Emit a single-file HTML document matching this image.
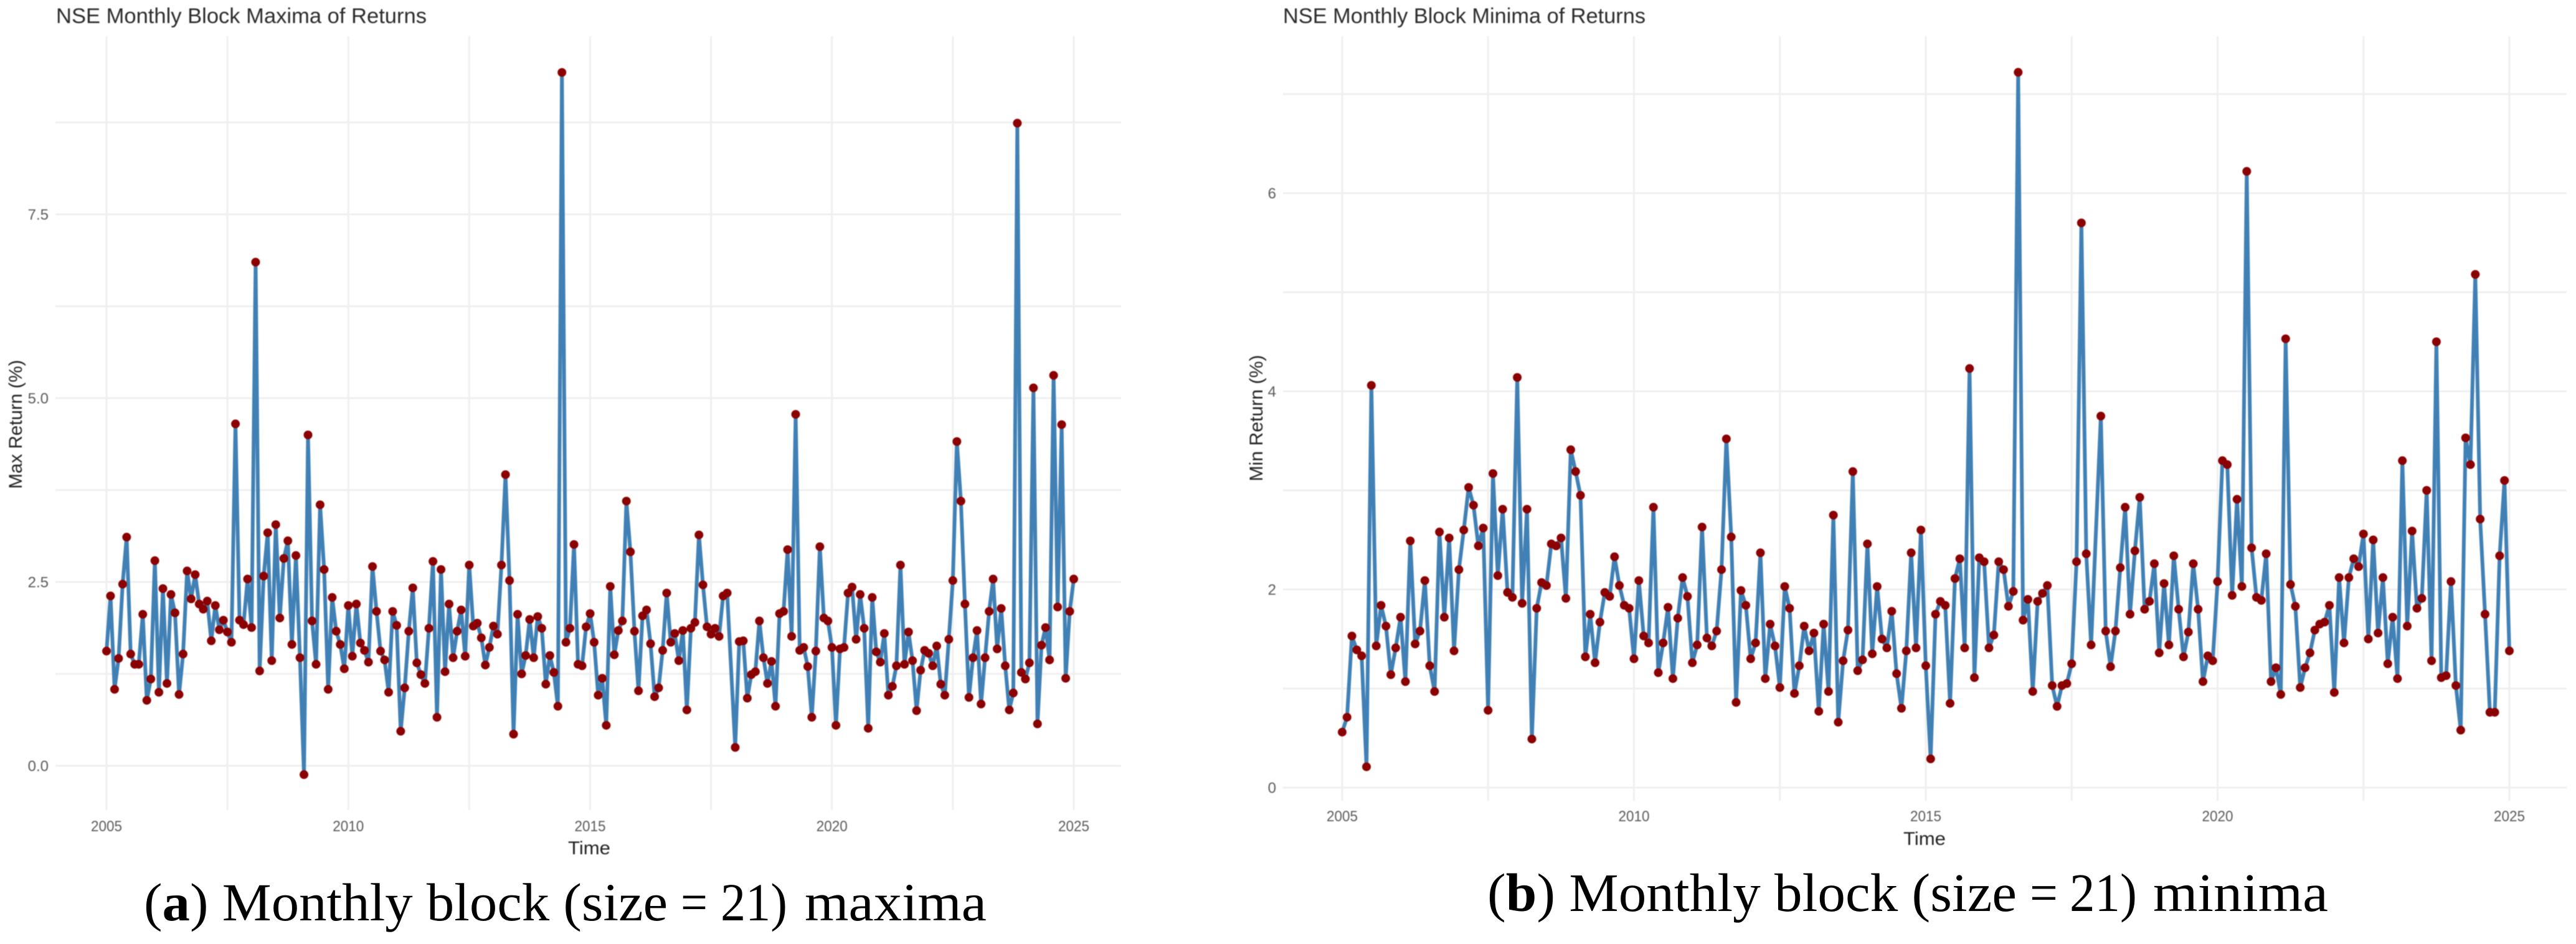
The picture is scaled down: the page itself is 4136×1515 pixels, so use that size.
<!DOCTYPE html>
<html lang="en">
<head>
<meta charset="utf-8">
<title>NSE Monthly Block Maxima and Minima of Returns</title>
<style>
html,body{margin:0;padding:0;background:#fff;width:4136px;height:1515px;overflow:hidden}
svg{display:block}
.plot{filter:blur(0.8px)}
.title{font:34px "Liberation Sans",sans-serif;fill:#2b2b2b}
.axt{font:30px "Liberation Sans",sans-serif;fill:#222}
.tick{font:24px "Liberation Sans",sans-serif;fill:#5a5a5a}
.cap{font:86px "Liberation Serif",serif;fill:#000}
.capb{font:87px "Liberation Serif",serif;fill:#000}
</style>
</head>
<body>
<svg id="fig" xmlns="http://www.w3.org/2000/svg" width="4136" height="1515" viewBox="0 0 4136 1515">
<rect width="4136" height="1515" fill="#fff"/>
<g id="plotA" class="plot">
<text class="title" x="90" y="37" textLength="595" lengthAdjust="spacingAndGlyphs">NSE Monthly Block Maxima of Returns</text>
<text class="axt" x="946" y="1371" text-anchor="middle" textLength="68" lengthAdjust="spacingAndGlyphs">Time</text>
<text class="axt" transform="translate(35 681) rotate(-90)" text-anchor="middle" textLength="207" lengthAdjust="spacingAndGlyphs">Max Return (%)</text>
</g>
<g id="plotB" class="plot">
<text class="title" x="2060" y="37" textLength="582" lengthAdjust="spacingAndGlyphs">NSE Monthly Block Minima of Returns</text>
<text class="axt" x="3090" y="1356" text-anchor="middle" textLength="68" lengthAdjust="spacingAndGlyphs">Time</text>
<text class="axt" transform="translate(2027 671) rotate(-90)" text-anchor="middle" textLength="203" lengthAdjust="spacingAndGlyphs">Min Return (%)</text>
</g>
<g>
<text class="cap" x="231" y="1477" textLength="841" lengthAdjust="spacingAndGlyphs">(<tspan font-weight="bold">a</tspan>) Monthly block (size</text>
<text class="cap" x="1093" y="1477" textLength="43" lengthAdjust="spacingAndGlyphs">=</text>
<text class="cap" x="1157" y="1477" textLength="107" lengthAdjust="spacingAndGlyphs">21)</text>
<text class="cap" x="1292" y="1477" textLength="292" lengthAdjust="spacingAndGlyphs">maxima</text>
</g>
<g>
<text class="capb" x="2388" y="1462" textLength="850" lengthAdjust="spacingAndGlyphs">(<tspan font-weight="bold">b</tspan>) Monthly block (size</text>
<text class="capb" x="3259" y="1462" textLength="45" lengthAdjust="spacingAndGlyphs">=</text>
<text class="capb" x="3323" y="1462" textLength="108" lengthAdjust="spacingAndGlyphs">21)</text>
<text class="capb" x="3457" y="1462" textLength="281" lengthAdjust="spacingAndGlyphs">minima</text>
</g>
</svg>
<script>
const startYear = 2005;
const xTickYears = [2005, 2010, 2015, 2020, 2025];
const xMinorYears = [2007.5, 2012.5, 2017.5, 2022.5];
const yTicksMax = [0, 2.5, 5, 7.5];
const yTickLabelsMax = ["0.0", "2.5", "5.0", "7.5"];
const yMinorMax = [1.25, 3.75, 6.25, 8.75];
const yTicksMin = [0, 2, 4, 6];
const yTickLabelsMin = ["0", "2", "4", "6"];
const yMinorMin = [1, 3, 5, 7];

const maxReturns = [
1.56,2.31,1.04,1.46,2.47,3.11,1.52,1.38,1.38,2.06,0.89,1.18,
2.79,1.00,2.41,1.12,2.33,2.08,0.97,1.52,2.65,2.27,2.60,2.20,
2.13,2.24,1.70,2.18,1.85,1.98,1.82,1.68,4.65,1.98,1.92,2.54,
1.88,6.85,1.29,2.58,3.17,1.43,3.28,2.01,2.82,3.06,1.65,2.86,
1.47,-0.12,4.50,1.97,1.38,3.55,2.67,1.04,2.29,1.83,1.65,1.32,
2.18,1.49,2.20,1.67,1.57,1.41,2.71,2.10,1.56,1.44,1.00,2.10,
1.91,0.47,1.06,1.83,2.42,1.40,1.24,1.12,1.87,2.78,0.66,2.67,
1.28,2.20,1.47,1.83,2.12,1.49,2.73,1.90,1.94,1.74,1.37,1.61,
1.90,1.79,2.73,3.96,2.52,0.43,2.06,1.25,1.50,1.99,1.47,2.03,
1.87,1.11,1.50,1.27,0.81,9.43,1.68,1.87,3.01,1.38,1.36,1.89,
2.07,1.68,0.96,1.19,0.55,2.44,1.51,1.84,1.97,3.60,2.91,1.83,
1.02,2.04,2.12,1.66,0.94,1.06,1.57,2.35,1.68,1.80,1.43,1.84,
0.76,1.87,1.95,3.14,2.46,1.89,1.79,1.87,1.76,2.31,2.35,null,
0.25,1.69,1.70,0.92,1.24,1.28,1.97,1.47,1.12,1.42,0.81,2.07,
2.10,2.94,1.76,4.78,1.57,1.61,1.35,0.66,1.56,2.98,2.01,1.97,
1.61,0.55,1.59,1.61,2.35,2.43,1.72,2.33,1.87,0.51,2.29,1.55,
1.41,1.80,0.96,1.08,1.36,2.73,1.38,1.82,1.43,0.75,1.30,1.57,
1.53,1.36,1.63,1.11,0.96,1.72,2.52,4.41,3.60,2.20,0.93,1.47,
1.84,0.84,1.47,2.10,2.54,1.59,2.14,1.36,0.76,0.99,8.74,1.27,
1.18,1.40,5.14,0.57,1.64,1.88,1.44,5.31,2.16,4.64,1.19,2.10,
2.54
];

const minReturns = [
0.56,0.71,1.53,1.39,1.33,0.21,4.06,1.43,1.84,1.63,1.14,1.41,
1.72,1.07,2.49,1.45,1.58,2.09,1.23,0.97,2.58,1.72,2.52,1.38,
2.20,2.60,3.03,2.85,2.44,2.62,0.78,3.17,2.14,2.81,1.97,1.92,
4.14,1.86,2.81,0.49,1.81,2.07,2.04,2.46,2.44,2.52,1.91,3.41,
3.19,2.95,1.32,1.75,1.26,1.67,1.97,1.93,2.33,2.04,1.84,1.81,
1.30,2.09,1.53,1.46,2.83,1.16,1.46,1.82,1.10,1.71,2.12,1.93,
1.26,1.44,2.63,1.51,1.43,1.58,2.20,3.52,2.53,0.86,1.99,1.84,
1.30,1.46,2.37,1.10,1.65,1.43,1.01,2.03,1.81,0.95,1.23,1.63,
1.38,1.56,0.77,1.65,0.97,2.75,0.66,1.28,1.59,3.19,1.18,1.29,
2.46,1.35,2.03,1.50,1.41,1.78,1.15,0.80,1.38,2.37,1.41,2.60,
1.23,0.29,1.75,1.88,1.84,0.85,2.11,2.31,1.41,4.23,1.11,2.32,
2.28,1.41,1.54,2.28,2.20,1.83,1.98,7.22,1.69,1.90,0.97,1.88,
1.96,2.04,1.03,0.82,1.03,1.05,1.25,2.28,5.70,2.36,1.44,null,
3.75,1.58,1.22,1.58,2.22,2.83,1.75,2.39,2.93,1.80,1.88,2.26,
1.36,2.06,1.44,2.34,1.80,1.32,1.57,2.26,1.80,1.07,1.33,1.28,
2.08,3.30,3.26,1.94,2.91,2.03,6.22,2.42,1.92,1.89,2.36,1.07,
1.21,0.94,4.53,2.05,1.83,1.01,1.21,1.36,1.59,1.65,1.67,1.84,
0.96,2.12,1.46,2.12,2.31,2.23,2.56,1.50,2.50,1.56,2.12,1.25,
1.72,1.10,3.30,1.63,2.59,1.81,1.91,3.00,1.28,4.50,1.11,1.13,
2.08,1.03,0.58,3.53,3.26,5.18,2.71,1.75,0.76,0.76,2.34,3.10,
1.38
];

const SVGNS = "http://www.w3.org/2000/svg";

function addLine(parent, x1, y1, x2, y2, name) {
  const el = document.createElementNS(SVGNS, "line");
  el.setAttribute("x1", x1);
  el.setAttribute("y1", y1);
  el.setAttribute("x2", x2);
  el.setAttribute("y2", y2);
  el.setAttribute("stroke", "#efefef");
  el.setAttribute("stroke-width", "3");
  
  
  parent.appendChild(el);
}

function addTick(parent, x, y, anchor, label, name) {
  const el = document.createElementNS(SVGNS, "text");
  el.setAttribute("x", x);
  el.setAttribute("y", y);
  el.setAttribute("text-anchor", anchor);
  el.setAttribute("class", "tick");
  el.textContent = label;
  if (label.length === 4) {
    el.setAttribute("textLength", "50");
    el.setAttribute("lengthAdjust", "spacingAndGlyphs");
  }
  
  
  parent.appendChild(el);
}

function drawChart(cfg, values) {
  const root = document.getElementById(cfg.id);
  const xScale = function (year) { return cfg.x0 + (year - startYear) * cfg.xPerYear; };
  const yScale = function (v) { return cfg.y0 - v * cfg.yPerUnit; };
  const grid = document.createElementNS(SVGNS, "g");
  
  
  root.insertBefore(grid, root.firstChild);

  cfg.yMinor.forEach(function (v) {
    addLine(grid, cfg.left, yScale(v), cfg.right, yScale(v), 'y-minor-gridline');
  });
  cfg.yTicks.forEach(function (v, i) {
    addLine(grid, cfg.left, yScale(v), cfg.right, yScale(v), 'y-major-gridline');
    addTick(root, cfg.yLabelX, yScale(v) + 8.5, "end", cfg.yLabels[i], 'y-tick-label');
  });
  xMinorYears.forEach(function (yr) {
    addLine(grid, xScale(yr), cfg.top, xScale(yr), cfg.bottom, 'x-minor-gridline');
  });
  xTickYears.forEach(function (yr) {
    addLine(grid, xScale(yr), cfg.top, xScale(yr), cfg.bottom, 'x-major-gridline');
    addTick(root, xScale(yr), cfg.xLabelY, "middle", String(yr), 'x-tick-label');
  });

  const pts = [];
  values.forEach(function (v, i) {
    if (v === null) return;
    pts.push([xScale(startYear + i / 12), yScale(v)]);
  });

  const line = document.createElementNS(SVGNS, "polyline");
  line.setAttribute("points", pts.map(function (p) { return p[0].toFixed(2) + "," + p[1].toFixed(2); }).join(" "));
  line.setAttribute("fill", "none");
  line.setAttribute("stroke", "#4080b4");
  line.setAttribute("stroke-width", "6");
  line.setAttribute("stroke-linejoin", "round");
  
  
  root.appendChild(line);

  const dots = document.createElementNS(SVGNS, "g");
  
  
  root.appendChild(dots);
  pts.forEach(function (p) {
    const c = document.createElementNS(SVGNS, "circle");
    c.setAttribute("cx", p[0].toFixed(2));
    c.setAttribute("cy", p[1].toFixed(2));
    c.setAttribute("r", "7");
    c.setAttribute("fill", "#8b0000");
    
    
    dots.appendChild(c);
  });
}

drawChart({
  id: "plotA", x0: 171, xPerYear: 77.65, y0: 1229, yPerUnit: 118,
  left: 89, right: 1800, top: 58, bottom: 1300,
  yTicks: yTicksMax, yLabels: yTickLabelsMax, yMinor: yMinorMax,
  yLabelX: 78, xLabelY: 1334
}, maxReturns);

drawChart({
  id: "plotB", x0: 2155, xPerYear: 93.7, y0: 1264, yPerUnit: 159,
  left: 2060, right: 4121, top: 58, bottom: 1285,
  yTicks: yTicksMin, yLabels: yTickLabelsMin, yMinor: yMinorMin,
  yLabelX: 2049, xLabelY: 1318
}, minReturns);
</script>
</body>
</html>
